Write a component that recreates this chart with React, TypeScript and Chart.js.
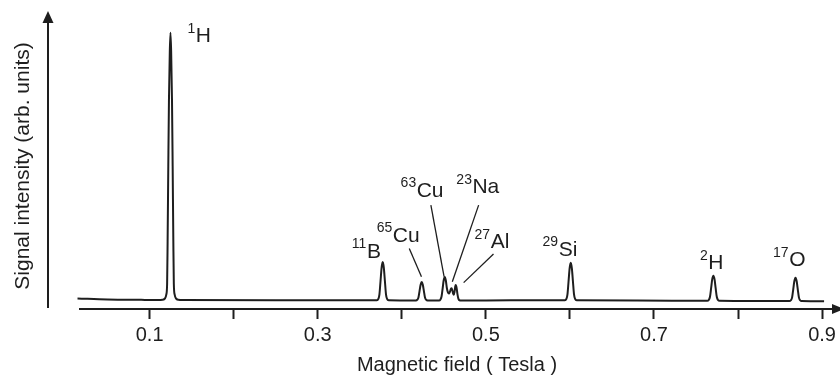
import React, { useEffect, useRef } from "react";
import { Chart, registerables } from "chart.js";

Chart.register(...registerables);

// ---- data (field in Tesla, signal in arbitrary units) ----
const baselineLeft: [number, number][] = [
  [0.0142, 0.006], [0.05, 0.002], [0.09, 0.0005], [0.11, 0.0],
];
const peak1H: [number, number][] = [
  [0.1153, 0.001], [0.1183, 0.006], [0.1198, 0.02], [0.1208, 0.06], [0.1214, 0.22],
  [0.1222, 0.5], [0.123, 0.75], [0.124, 0.93], [0.1248, 1.0], [0.1256, 0.93],
  [0.1266, 0.75], [0.1274, 0.5], [0.1282, 0.22], [0.1288, 0.06], [0.1298, 0.02],
  [0.1313, 0.006], [0.1343, 0.001], [0.139, 0.0],
];
const baselineMid1: [number, number][] = [[0.25, -0.001]];
const peak11B: [number, number][] = [
  [0.3703, -0.001], [0.3721, 0.004], [0.3734, 0.021], [0.3747, 0.071], [0.376, 0.121],
  [0.3773, 0.142], [0.3786, 0.121], [0.3799, 0.071], [0.3812, 0.021], [0.3825, 0.004],
  [0.3843, -0.001],
];
const peak65Cu: [number, number][] = [
  [0.4167, -0.002], [0.4185, 0.001], [0.4198, 0.009], [0.4211, 0.033], [0.4224, 0.057],
  [0.4237, 0.067], [0.425, 0.057], [0.4263, 0.033], [0.4276, 0.009], [0.4289, 0.001],
  [0.4307, -0.002],
];
const peaksCuNaAl: [number, number][] = [
  [0.4443, -0.002], [0.446, 0.002], [0.4473, 0.013], [0.4486, 0.043], [0.4498, 0.073],
  [0.4511, 0.086], [0.4524, 0.073], [0.4536, 0.045], [0.4549, 0.028], [0.456, 0.024],
  [0.4574, 0.032], [0.4584, 0.041], [0.4592, 0.044], [0.4601, 0.037], [0.4611, 0.024],
  [0.4619, 0.02], [0.4628, 0.032], [0.4636, 0.051], [0.4642, 0.056], [0.4652, 0.045],
  [0.4662, 0.022], [0.4673, 0.005], [0.4686, -0.001], [0.4708, -0.002],
];
const baselineMid2: [number, number][] = [[0.53, -0.001]];
const peak29Si: [number, number][] = [
  [0.594, -0.001], [0.5958, 0.004], [0.5971, 0.021], [0.5984, 0.07], [0.5997, 0.119],
  [0.601, 0.139], [0.6023, 0.119], [0.6036, 0.07], [0.6049, 0.021], [0.6062, 0.004],
  [0.608, -0.001],
];
const baselineMid3: [number, number][] = [[0.68, -0.002]];
const peak2H: [number, number][] = [
  [0.7633, -0.003], [0.7652, 0.0], [0.7666, 0.011], [0.768, 0.044], [0.7693, 0.077],
  [0.7707, 0.091], [0.7721, 0.077], [0.7734, 0.044], [0.7748, 0.011], [0.7762, 0.0],
  [0.7781, -0.003],
];
const baselineMid4: [number, number][] = [[0.82, -0.004]];
const peak17O: [number, number][] = [
  [0.861, -0.004], [0.8629, -0.001], [0.8643, 0.009], [0.8657, 0.04], [0.867, 0.07],
  [0.8684, 0.083], [0.8698, 0.07], [0.8711, 0.04], [0.8725, 0.009], [0.8739, -0.001],
  [0.8758, -0.004],
];
const baselineRight: [number, number][] = [[0.9024, -0.005]];

const tickValues = [0.1, 0.2, 0.3, 0.4, 0.5, 0.6, 0.7, 0.8, 0.9];
const tickLabels = ["0.1", "", "0.3", "", "0.5", "", "0.7", "", "0.9"];

// peak labels: superscript mass number, element, anchor (field, signal) of the text
const labelSup = ["1", "11", "65", "63", "23", "27", "29", "2", "17"];
const labelMain = ["H", "B", "Cu", "Cu", "Na", "Al", "Si", "H", "O"];
const labelField = [0.145, 0.3406, 0.3702, 0.3986, 0.4649, 0.4866, 0.5675, 0.7548, 0.8417];
const labelSignal = [0.965, 0.158, 0.218, 0.386, 0.399, 0.193, 0.165, 0.115, 0.127];

// leader lines: [field1, signal1, field2, signal2]
const leaders: [number, number, number, number][] = [
  [0.4089, 0.193, 0.4234, 0.087],
  [0.4346, 0.355, 0.4503, 0.087],
  [0.4914, 0.355, 0.4601, 0.068],
  [0.5091, 0.172, 0.4736, 0.065],
];

const X_MIN = 0.01716;
const X_MAX = 0.9142;
const Y_MIN = -0.0337;
const Y_MAX = 1.0775;

const FONT = '"Liberation Sans", Arial, Helvetica, sans-serif';
const INK = "#1e1e1e";

export default function App() {
  const ref = useRef<HTMLCanvasElement | null>(null);

  useEffect(() => {
    const canvas = ref.current;
    if (!canvas) return;
    const spectrum = [
      ...baselineLeft, ...peak1H, ...baselineMid1, ...peak11B, ...peak65Cu,
      ...peaksCuNaAl, ...baselineMid2, ...peak29Si, ...baselineMid3, ...peak2H,
      ...baselineMid4, ...peak17O, ...baselineRight,
    ].map(([x, y]) => ({ x, y }));

    const overlay = {
      id: "overlay",
      afterDraw(chart: any) {
        const ctx = chart.ctx as CanvasRenderingContext2D;
        const xs = chart.scales.x;
        const ys = chart.scales.y;
        const area = chart.chartArea;
        ctx.save();
        ctx.fillStyle = INK;
        ctx.strokeStyle = INK;

        // x-axis arrow head
        const ay = area.bottom;
        ctx.beginPath();
        ctx.moveTo(area.right - 2, ay - 5);
        ctx.lineTo(area.right + 10, ay);
        ctx.lineTo(area.right - 2, ay + 5);
        ctx.closePath();
        ctx.fill();

        // y-axis with arrow
        const yx = 48;
        ctx.lineWidth = 2;
        ctx.beginPath();
        ctx.moveTo(yx, area.bottom - 1);
        ctx.lineTo(yx, 20);
        ctx.stroke();
        ctx.beginPath();
        ctx.moveTo(yx, 11);
        ctx.lineTo(yx - 5.5, 23);
        ctx.lineTo(yx + 5.5, 23);
        ctx.closePath();
        ctx.fill();

        // y title
        ctx.save();
        ctx.translate(23, 166);
        ctx.rotate(-Math.PI / 2);
        ctx.font = `21px ${FONT}`;
        ctx.textAlign = "center";
        ctx.textBaseline = "middle";
        ctx.fillText("Signal intensity (arb. units)", 0, 0);
        ctx.restore();

        // leader lines
        ctx.lineWidth = 1.3;
        leaders.forEach(([x1, y1, x2, y2]) => {
          ctx.beginPath();
          ctx.moveTo(xs.getPixelForValue(x1), ys.getPixelForValue(y1));
          ctx.lineTo(xs.getPixelForValue(x2), ys.getPixelForValue(y2));
          ctx.stroke();
        });

        // peak labels
        ctx.textAlign = "left";
        ctx.textBaseline = "alphabetic";
        labelSup.forEach((sup, i) => {
          const px = xs.getPixelForValue(labelField[i]);
          const py = ys.getPixelForValue(labelSignal[i]);
          ctx.font = `14px ${FONT}`;
          ctx.fillText(sup, px, py - 9.5);
          const w = ctx.measureText(sup).width;
          ctx.font = `21px ${FONT}`;
          ctx.fillText(labelMain[i], px + w + 0.5, py);
        });
        ctx.restore();
      },
    };

    const chart = new Chart(canvas, {
      type: "line",
      data: {
        datasets: [
          {
            data: spectrum,
            borderColor: INK,
            borderWidth: 2,
            pointRadius: 0,
            fill: false,
            cubicInterpolationMode: "monotone",
            clip: false as any,
          },
        ],
      },
      options: {
        animation: false,
        responsive: false,
        maintainAspectRatio: false,
        events: [],
        layout: { padding: { left: 80, right: 2, top: 12, bottom: 0 } },
        plugins: {
          legend: { display: false },
          tooltip: { enabled: false },
          title: { display: false },
        },
        scales: {
          x: {
            type: "linear",
            min: X_MIN,
            max: X_MAX,
            afterBuildTicks: (s: any) => {
              s.ticks = tickValues.map((v) => ({ value: v }));
            },
            afterFit: (s: any) => {
              s.height = 68;
            },
            grid: {
              display: true,
              drawOnChartArea: false,
              drawTicks: true,
              tickLength: 10,
              tickWidth: 2,
              tickColor: INK,
            },
            border: { display: true, color: INK, width: 2 },
            ticks: {
              autoSkip: false,
              maxRotation: 0,
              padding: 4,
              color: INK,
              font: { family: FONT, size: 20 },
              callback: (_v: any, i: number) => tickLabels[i],
            },
            title: {
              display: true,
              text: "Magnetic field ( Tesla )",
              color: INK,
              font: { family: FONT, size: 20 },
              padding: { top: 0, bottom: 0 },
            },
          },
          y: { type: "linear", display: false, min: Y_MIN, max: Y_MAX },
        },
      },
      plugins: [overlay],
    } as any);

    return () => chart.destroy();
  }, []);

  return (
    <canvas
      ref={ref}
      width={840}
      height={377}
      style={{ position: "fixed", left: 0, top: 0, width: 840, height: 377, background: "#fff" }}
    />
  );
}
